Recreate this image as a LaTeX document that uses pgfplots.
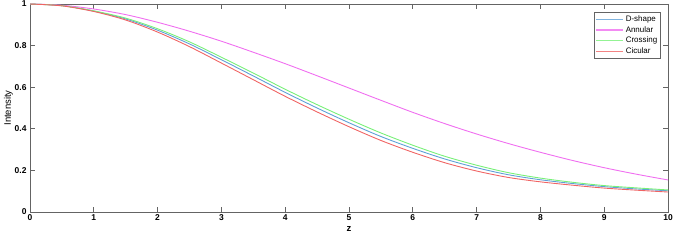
\documentclass[border=0pt]{standalone}
\usepackage{fontspec}
\setmainfont{Liberation Sans}
\usepackage{pgfplots}
\pgfplotsset{compat=1.18}
\definecolor{cD}{RGB}{95,160,215}
\definecolor{cA}{RGB}{240,110,240}
\definecolor{cX}{RGB}{120,240,120}
\definecolor{cC}{RGB}{240,100,100}
\definecolor{axgray}{RGB}{100,100,100}
\begin{document}
\begin{tikzpicture}
\begin{axis}[
  at={(0,0)}, anchor=south west,
  scale only axis, width=638bp, height=208bp,
  xmin=0, xmax=10, ymin=0, ymax=1,
  xtick={0,1,...,10}, ytick={0,0.2,0.4,0.6,0.8,1},
  yticklabels={0,0.2,0.4,0.6,0.8,1},
  tick align=inside, major tick length=5bp,
  axis line style={axgray, line width=0.8pt},
  every tick/.style={axgray, line width=0.8pt},
  tick label style={font=\fontsize{8.5}{10}\selectfont\bfseries},
  /pgf/number format/assume math mode=true,
  xticklabel style={yshift=1bp},
  xlabel={\bfseries z}, ylabel={Intensity},
  label style={font=\fontsize{9.5}{11}\selectfont},
  xlabel style={yshift=1bp},
  ylabel style={yshift=-5bp},
  legend style={at={(0.989,0.962)}, anchor=north east, font=\fontsize{8}{9.5}\selectfont,
    draw=axgray, line width=0.6pt, inner sep=1.5pt, row sep=-0.5pt},
  legend cell align=left,
  legend image code/.code={\draw[#1] (0cm,0cm) -- (0.95cm,0cm);},
  legend image post style={line width=1.2pt, opacity=0.8},
  every axis plot/.append style={line width=0.9pt, smooth},
]
\addplot[color=cD] coordinates {(0,1)(0.5,0.992)(1,0.966)(1.5,0.928)(2,0.874)(2.5,0.808)(3,0.732)(3.5,0.654)(4,0.575)(4.5,0.500)(5,0.429)(5.5,0.363)(6,0.306)(6.5,0.255)(7,0.213)(7.5,0.179)(8,0.155)(8.5,0.137)(9,0.122)(9.5,0.111)(10,0.102)};
\addlegendentry{D-shape}
\addplot[color=cA] coordinates {(0,1)(0.5,0.994)(1,0.976)(1.5,0.949)(2,0.912)(2.5,0.869)(3,0.821)(3.5,0.768)(4,0.713)(4.5,0.655)(5,0.596)(5.5,0.537)(6,0.479)(6.5,0.425)(7,0.375)(7.5,0.329)(8,0.287)(8.5,0.248)(9,0.213)(9.5,0.182)(10,0.154)};
\addlegendentry{Annular}
\addplot[color=cX] coordinates {(0,1)(0.5,0.992)(1,0.967)(1.5,0.932)(2,0.881)(2.5,0.818)(3,0.744)(3.5,0.668)(4,0.590)(4.5,0.516)(5,0.446)(5.5,0.380)(6,0.321)(6.5,0.268)(7,0.225)(7.5,0.189)(8,0.163)(8.5,0.143)(9,0.127)(9.5,0.116)(10,0.106)};
\addlegendentry{Crossing}
\addplot[color=cC] coordinates {(0,1)(0.5,0.991)(1,0.964)(1.5,0.923)(2,0.865)(2.5,0.795)(3,0.716)(3.5,0.636)(4,0.556)(4.5,0.481)(5,0.410)(5.5,0.344)(6,0.287)(6.5,0.237)(7,0.197)(7.5,0.166)(8,0.145)(8.5,0.129)(9,0.115)(9.5,0.105)(10,0.096)};
\addlegendentry{Cicular}
\end{axis}
\pgfresetboundingbox
\useasboundingbox (-30bp,-28bp) rectangle (644bp,212bp);
\end{tikzpicture}
\end{document}
